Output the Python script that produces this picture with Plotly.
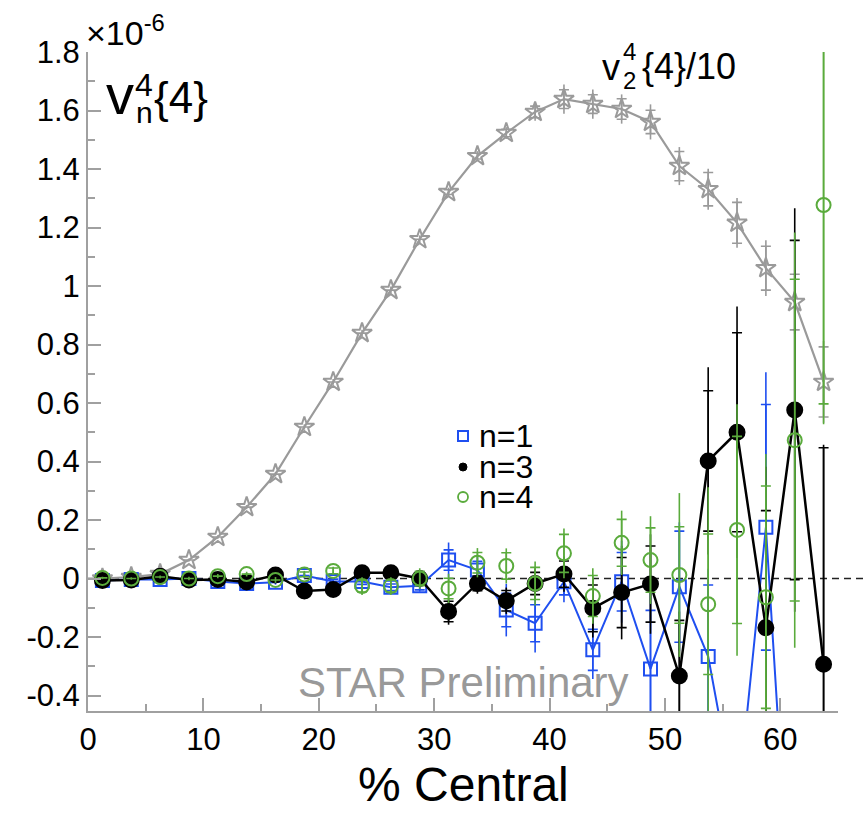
import plotly.graph_objects as go

# ---------------- data ----------------
centrality = [1.25, 3.75, 6.25, 8.75, 11.25, 13.75, 16.25, 18.75, 21.25, 23.75,
              26.25, 28.75, 31.25, 33.75, 36.25, 38.75, 41.25, 43.75, 46.25, 48.75,
              51.25, 53.75, 56.25, 58.75, 61.25, 63.75]

v2_div10 = [0.0, 0.005, 0.015, 0.063, 0.142, 0.244, 0.357, 0.518, 0.672, 0.839,
            0.986, 1.160, 1.321, 1.444, 1.523, 1.595, 1.639, 1.622, 1.605, 1.561,
            1.410, 1.331, 1.216, 1.061, 0.945, 0.672]
v2_stat = [0.003, 0.003, 0.004, 0.005, 0.006, 0.007, 0.008, 0.009, 0.010, 0.011,
           0.012, 0.013, 0.015, 0.017, 0.020, 0.030, 0.050, 0.050, 0.050, 0.060,
           0.065, 0.070, 0.085, 0.095, 0.110, 0.140]
v2_sys = [0, 0, 0, 0, 0, 0, 0, 0, 0, 0,
          0, 0, 0.008, 0.010, 0.013, 0.020, 0.032, 0.032, 0.035, 0.040,
          0.050, 0.057, 0.070, 0.075, 0.095, 0.120]

n1 = [-0.007, -0.003, -0.003, 0.0, -0.010, -0.017, -0.013, 0.010, -0.010, -0.010,
      -0.030, -0.025, 0.063, 0.029, -0.108, -0.153, -0.011, -0.244, -0.011, -0.309,
      -0.028, -0.267, -0.80, 0.175, -1.40, None]
n1_stat = [0.004, 0.004, 0.005, 0.005, 0.006, 0.007, 0.008, 0.010, 0.012, 0.014,
           0.015, 0.020, 0.060, 0.045, 0.090, 0.100, 0.070, 0.100, 0.140, 0.300,
           0.220, 0.300, 0.300, 0.530, 0.800, 0]
n1_sys = [0, 0, 0, 0, 0, 0, 0, 0, 0.008, 0.010,
          0.011, 0.014, 0.035, 0.030, 0.057, 0.063, 0.045, 0.070, 0.100, 0.200,
          0.190, 0.245, 0.200, 0.420, 0.550, 0]

n3 = [-0.007, -0.005, 0.008, -0.005, -0.003, -0.012, 0.012, -0.043, -0.038, 0.020,
      0.020, 0.0, -0.113, -0.017, -0.076, -0.017, 0.015, -0.102, -0.048, -0.019,
      -0.333, 0.402, 0.500, -0.168, 0.576, -0.293]
n3_stat = [0.004, 0.004, 0.005, 0.005, 0.006, 0.007, 0.008, 0.010, 0.012, 0.020,
           0.022, 0.025, 0.045, 0.035, 0.045, 0.050, 0.060, 0.100, 0.160, 0.170,
           0.220, 0.320, 0.430, 0.550, 0.690, 0.750]
n3_sys = [0, 0, 0, 0, 0, 0, 0, 0, 0.008, 0.016,
          0.018, 0.020, 0.035, 0.025, 0.035, 0.038, 0.045, 0.080, 0.120, 0.130,
          0.190, 0.240, 0.340, 0.400, 0.580, 0.740]

n4 = [0.002, 0.0, 0.005, 0.0, 0.008, 0.015, -0.005, 0.014, 0.026, -0.026,
      -0.026, 0.0, -0.034, 0.054, 0.043, -0.017, 0.086, -0.060, 0.122, 0.063,
      0.012, -0.088, 0.166, -0.064, 0.473, 1.277]
n4_stat = [0.004, 0.004, 0.005, 0.006, 0.007, 0.008, 0.010, 0.012, 0.014, 0.030,
           0.030, 0.035, 0.050, 0.050, 0.060, 0.075, 0.085, 0.095, 0.110, 0.150,
           0.280, 0.400, 0.430, 0.490, 0.710, 0.750]
n4_sys = [0, 0, 0, 0, 0, 0, 0, 0.008, 0.010, 0.020,
          0.020, 0.025, 0.035, 0.035, 0.045, 0.055, 0.065, 0.070, 0.080, 0.110,
          0.165, 0.240, 0.320, 0.380, 0.550, 0.680]

y_ticks = [-0.4, -0.2, 0, 0.2, 0.4, 0.6, 0.8, 1, 1.2, 1.4, 1.6, 1.8]
y_ticktext = ["-0.4", "-0.2", "0", "0.2", "0.4", "0.6", "0.8", "1", "1.2", "1.4", "1.6", "1.8"]
x_ticks = [0, 10, 20, 30, 40, 50, 60]
x_range = [0, 65]
y_range = [-0.453, 1.8]

legend_labels = ["n=1", "n=3", "n=4"]
x_title = "% Central"

# ---------------- styles ----------------
GREY = "#9a9a9a"
BLUE = "#1f4ff0"
BLACK = "#000000"
GREEN = "#5aab3c"
FONT = "Liberation Sans, Arial, Helvetica, sans-serif"

W, H = 863, 814
ML, MR, MT, MB = 88, 25, 52, 103
PW, PH = W - ML - MR, H - MT - MB


def px(xp):
    return (xp - ML) / PW


def py(yp):
    return (H - MB - yp) / PH


fig = go.Figure()


def add_series(y, stat, sys, color, symbol, size, lw, capw, mode):
    # statistical error bars (plain line)
    fig.add_trace(go.Scatter(
        x=centrality, y=y, mode="markers", showlegend=False, hoverinfo="skip",
        marker=dict(size=1, color="rgba(0,0,0,0)"),
        error_y=dict(type="data", array=stat, visible=True, color=color,
                     thickness=1.6, width=0)))
    # systematic error ticks
    fig.add_trace(go.Scatter(
        x=centrality, y=y, mode="markers", showlegend=False, hoverinfo="skip",
        marker=dict(size=1, color="rgba(0,0,0,0)"),
        error_y=dict(type="data", array=sys, visible=True, color=color,
                     thickness=1.6, width=capw)))
    fig.add_trace(go.Scatter(
        x=centrality, y=y, mode=mode, showlegend=False,
        line=dict(color=color, width=lw),
        marker=dict(symbol=symbol, size=size, color=color,
                    line=dict(color=color, width=2))))


add_series(v2_div10, v2_stat, v2_sys, GREY, "star-open", 15, 2.2, 5, "lines+markers")
add_series(n1, n1_stat, n1_sys, BLUE, "square-open", 13, 2, 5, "lines+markers")
add_series(n3, n3_stat, n3_sys, BLACK, "circle", 15, 2.5, 5, "lines+markers")
add_series(n4, n4_stat, n4_sys, GREEN, "circle-open", 14, 2, 5, "markers")

# zero dashed reference line
fig.add_shape(type="line", xref="paper", yref="y", x0=0, x1=px(W + 5), y0=0, y1=0,
              line=dict(color="#222222", width=1.6, dash="7px,5px"), layer="below")

annotations = []


def ann(text, xp, yp, size, color=BLACK, xanchor="left", yanchor="middle"):
    annotations.append(dict(text=text, x=px(xp), y=py(yp), xref="paper", yref="paper",
                            showarrow=False, xanchor=xanchor, yanchor=yanchor,
                            font=dict(family=FONT, size=size, color=color)))


# ×10^-6
ann("×10<sup>-6</sup>", 84, 30, 34)
# v_n^4{4}
ann("v", 104, 94, 56)
ann("4", 133, 85, 32)
ann("n", 134, 112, 30)
ann("{4}", 152, 97, 44)
# v_2^4{4}/10
ann("v", 600, 68, 36)
ann("4", 621, 51, 24)
ann("2", 621, 81, 24)
ann("{4}/10", 640, 67, 36)
# STAR Preliminary
ann("STAR Preliminary", 463, 682, 42, color="#999999", xanchor="center")
# x-axis title
ann(x_title, 463, 813, 48, xanchor="center", yanchor="bottom")

# custom legend
legend_colors = [BLUE, BLACK, GREEN]
leg_y = [436, 467, 497]
for lab, yy in zip(legend_labels, leg_y):
    ann(lab, 477, yy, 32)
fig.add_shape(type="rect", xref="paper", yref="paper",
              x0=px(458), x1=px(468), y0=py(441), y1=py(431),
              line=dict(color=BLUE, width=2))
fig.add_shape(type="circle", xref="paper", yref="paper",
              x0=px(459), x1=px(467), y0=py(471), y1=py(463),
              line=dict(color=BLACK, width=1), fillcolor=BLACK)
fig.add_shape(type="circle", xref="paper", yref="paper",
              x0=px(458), x1=px(468), y0=py(502), y1=py(492),
              line=dict(color=GREEN, width=1.8))

fig.update_layout(
    width=W, height=H,
    margin=dict(l=ML, r=MR, t=MT, b=MB, pad=0, autoexpand=False),
    paper_bgcolor="white", plot_bgcolor="white",
    font=dict(family=FONT, color=BLACK),
    showlegend=False,
    annotations=annotations,
    xaxis=dict(range=x_range, tickvals=x_ticks, showgrid=False, zeroline=False,
               automargin=False,
               showline=True, linecolor="#a0a0a0", linewidth=2,
               ticks="inside", ticklen=13, tickwidth=1.5, tickcolor="#a0a0a0",
               minor=dict(dtick=5, ticks="inside", ticklen=7, tickwidth=1.5,
                          tickcolor="#a0a0a0", showgrid=False),
               tickfont=dict(size=31, family=FONT, color=BLACK)),
    yaxis=dict(range=y_range, tickvals=y_ticks, ticktext=y_ticktext,
               showgrid=False, zeroline=False, automargin=False,
               showline=True, linecolor="#a0a0a0", linewidth=2,
               ticks="inside", ticklen=13, tickwidth=1.5, tickcolor="#a0a0a0",
               minor=dict(dtick=0.1, ticks="inside", ticklen=7, tickwidth=1.5,
                          tickcolor="#a0a0a0", showgrid=False),
               tickfont=dict(size=31, family=FONT, color=BLACK)),
)

fig.write_html("out.html")
